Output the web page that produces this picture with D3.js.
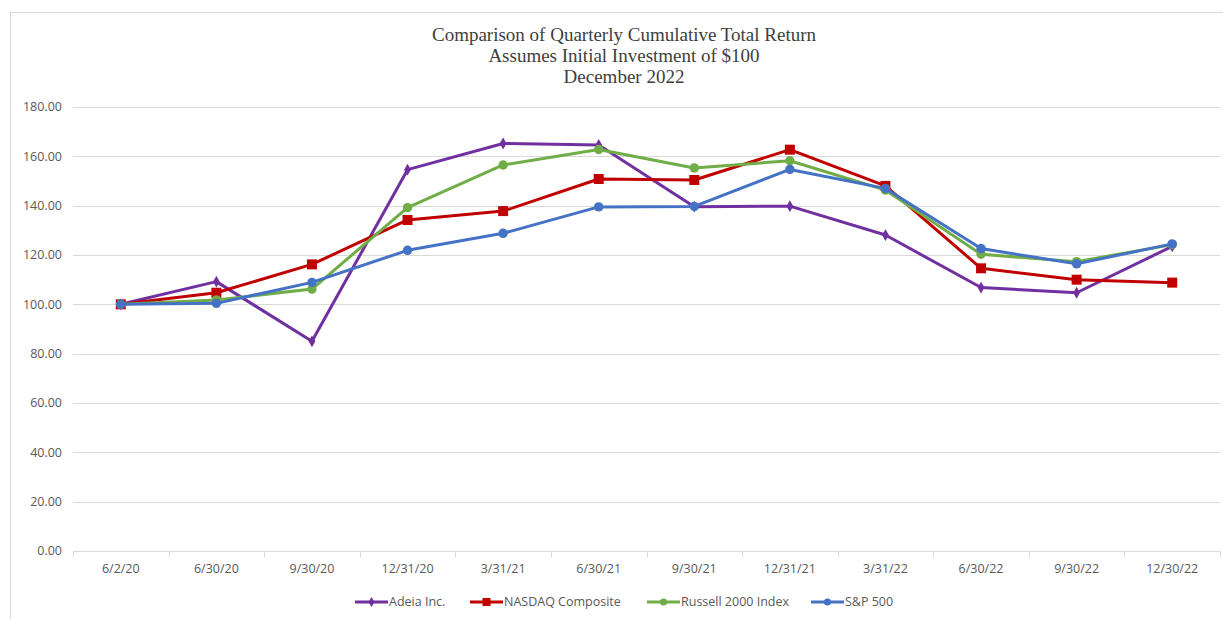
<!DOCTYPE html>
<html>
<head>
<meta charset="utf-8">
<script src="https://cdn.jsdelivr.net/npm/d3@7"></script>
<style>
  body { margin: 0; background: #fff; }
  svg { display: block; }
</style>
</head>
<body>
<div id="chart"></div>
<script>
// data
const dates = ["6/2/20", "6/30/20", "9/30/20", "12/31/20", "3/31/21", "6/30/21",
  "9/30/21", "12/31/21", "3/31/22", "6/30/22", "9/30/22", "12/30/22"];
const adeia = [100, 109.2, 85.0, 154.6, 165.2, 164.6, 139.6, 139.8, 128.1, 106.8, 104.7, 123.5];
const nasdaq = [100, 104.7, 116.2, 134.2, 137.8, 150.8, 150.4, 162.7, 148.0, 114.6, 110.0, 108.8];
const russell = [100, 101.8, 106.2, 139.2, 156.5, 162.8, 155.3, 158.2, 146.3, 120.3, 117.3, 124.2];
const sp500 = [100, 100.4, 108.9, 121.9, 128.8, 139.5, 139.7, 154.7, 147.0, 122.6, 116.4, 124.5];
const yTicks = [0, 20, 40, 60, 80, 100, 120, 140, 160, 180];
const titleLines = ["Comparison of Quarterly Cumulative Total Return",
  "Assumes Initial Investment of $100", "December 2022"];

const series = [
  { name: "Adeia Inc.", values: adeia, color: "#7030A0", marker: "diamond" },
  { name: "NASDAQ Composite", values: nasdaq, color: "#C00000", marker: "square" },
  { name: "Russell 2000 Index", values: russell, color: "#70AD47", marker: "circle" },
  { name: "S&P 500", values: sp500, color: "#4472C4", marker: "circle" }
];

const width = 1223, height = 619;
const margin = { left: 73, right: 3, top: 107, bottom: 68 };

const svg = d3.select("#chart").append("svg")
  .attr("width", width)
  .attr("height", height);

// chart frame
svg.append("rect")
  .attr("x", 10.5).attr("y", 12.5)
  .attr("width", width + 20).attr("height", height + 20)
  .attr("fill", "none")
  .attr("stroke", "#d9d9d9");

const x = d3.scaleBand()
  .domain(dates)
  .range([margin.left, width - margin.right]);

const y = d3.scaleLinear()
  .domain([0, 180])
  .range([height - margin.bottom, margin.top]);

// title
svg.append("g").selectAll("text")
  .data(titleLines)
  .join("text")
  .attr("x", 624)
  .attr("y", (d, i) => 41 + i * 21)
  .attr("text-anchor", "middle")
  .style("font-family", "'Liberation Serif', 'Times New Roman', serif")
  .style("font-size", "19px")
  .style("fill", "#404040")
  .text(d => d);

// gridlines
svg.append("g").selectAll("line")
  .data(yTicks.filter(d => d > 0))
  .join("line")
  .attr("x1", margin.left).attr("x2", width - margin.right)
  .attr("y1", d => Math.round(y(d)) + 0.5).attr("y2", d => Math.round(y(d)) + 0.5)
  .attr("stroke", "#d9d9d9")
  .attr("stroke-width", 1);

// y labels
svg.append("g").selectAll("text")
  .data(yTicks)
  .join("text")
  .attr("x", 62)
  .attr("y", d => y(d))
  .attr("dy", "0.35em")
  .attr("text-anchor", "end")
  .style("font-family", "'Open Sans', sans-serif")
  .style("font-size", "12.5px")
  .style("fill", "#595959")
  .text(d => d3.format(".2f")(d));

// x axis
const xAxis = svg.append("g")
  .attr("transform", `translate(0,${Math.round(y(0)) + 0.5})`);
xAxis.append("line")
  .attr("x1", margin.left).attr("x2", width - margin.right)
  .attr("stroke", "#d9d9d9").attr("stroke-width", 1);
xAxis.selectAll(".tick")
  .data(dates.concat(["end"]))
  .join("line")
  .attr("x1", (d, i) => Math.round(margin.left + i * x.step()) + 0.5)
  .attr("x2", (d, i) => Math.round(margin.left + i * x.step()) + 0.5)
  .attr("y1", 0).attr("y2", 6)
  .attr("stroke", "#d9d9d9");
xAxis.selectAll("text")
  .data(dates)
  .join("text")
  .attr("x", d => x(d) + x.bandwidth() / 2)
  .attr("y", 21)
  .attr("text-anchor", "middle")
  .style("font-family", "'Open Sans', sans-serif")
  .style("font-size", "12.5px")
  .style("fill", "#595959")
  .text(d => d);

const cx = (d, i) => x(dates[i]) + x.bandwidth() / 2;

const line = d3.line()
  .x(cx)
  .y(d => y(d));

function markerPath(type) {
  if (type === "diamond") return d3.symbol(d3.symbolDiamond, 40)();
  if (type === "square") return d3.symbol(d3.symbolSquare, 100)();
  return d3.symbol(d3.symbolCircle, 70)();
}

const plot = svg.append("g");
series.forEach(s => {
  const g = plot.append("g");
  g.append("path")
    .datum(s.values)
    .attr("d", line)
    .attr("fill", "none")
    .attr("stroke", s.color)
    .attr("stroke-width", 3)
    .attr("stroke-linejoin", "round");
  g.selectAll("path.m")
    .data(s.values)
    .join("path")
    .attr("class", "m")
    .attr("transform", (d, i) => `translate(${cx(d, i)},${y(d)})`)
    .attr("d", markerPath(s.marker))
    .attr("fill", s.color);
});

// legend
const legendX = [355, 470, 647, 811];
const legend = svg.append("g");
series.forEach((s, i) => {
  const lg = legend.append("g")
    .attr("transform", `translate(${legendX[i]},602)`);
  lg.append("line")
    .attr("x1", 0).attr("x2", 33)
    .attr("stroke", s.color).attr("stroke-width", 3);
  lg.append("path")
    .attr("transform", "translate(16.5,0)")
    .attr("d", s.marker === "diamond" ? d3.symbol(d3.symbolDiamond, 30)()
      : s.marker === "square" ? d3.symbol(d3.symbolSquare, 64)()
      : d3.symbol(d3.symbolCircle, 40)())
    .attr("fill", s.color);
  lg.append("text")
    .attr("x", 34)
    .attr("dy", "0.35em")
    .style("font-family", "'Open Sans', sans-serif")
    .style("font-size", "12.5px")
    .style("fill", "#595959")
    .text(s.name);
});
</script>
</body>
</html>
